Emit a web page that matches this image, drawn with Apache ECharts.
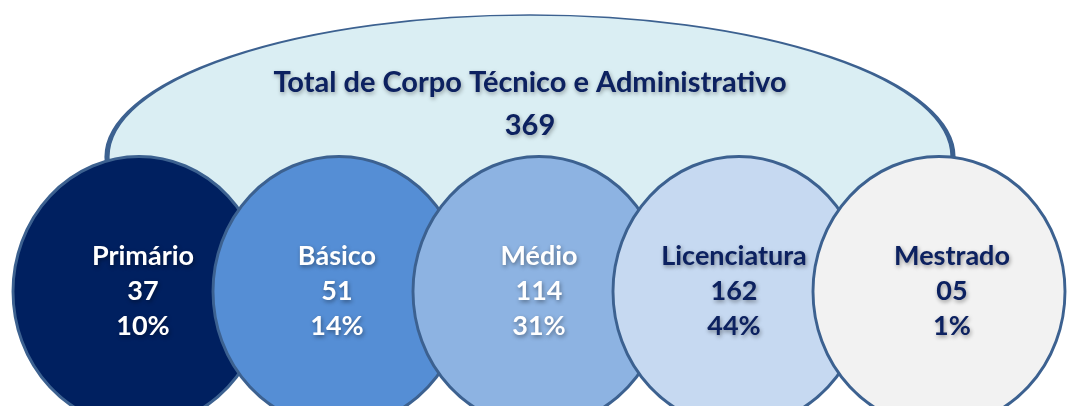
<!DOCTYPE html>
<html>
<head>
<meta charset="utf-8">
<script src="https://cdn.jsdelivr.net/npm/echarts@6/dist/echarts.min.js"></script>
<style>
html,body{margin:0;padding:0;background:#ffffff;}
#chart{width:1070px;height:406px;}
</style>
</head>
<body>
<div id="chart"></div>
<script>
// ---- data ----
const categories = ['Primário', 'Básico', 'Médio', 'Licenciatura', 'Mestrado'];
const counts = [37, 51, 114, 162, 5];
const percents = [10, 14, 31, 44, 1];
const totalTitle = 'Total de Corpo Técnico e Administrativo';
const totalValue = 369;

// ---- styles ----
const fills = ['#002060', '#558ED5', '#8DB3E2', '#C6D9F1', '#F2F2F2'];
const textColors = ['#ffffff', '#ffffff', '#ffffff', '#0C2160', '#0C2160'];
const labelShift = [4, -2, 0, -5, 13];
const outline = '#3C6190';
const navy = '#0C2160';
const ELLIPSE = 'path://M0,50 A50,50 0 1,1 100,50 A50,50 0 1,1 0,50 Z';
const FONT = 'Lato';

const chart = echarts.init(document.getElementById('chart'), null, {renderer: 'canvas'});

const circleData = categories.map((c, i) => ({
  value: [i, 0],
  itemStyle: {color: fills[i]},
  label: {
    color: textColors[i],
    offset: [labelShift[i], 0],
    formatter: c + '\n' + String(counts[i]).padStart(2, '0') + '\n' + percents[i] + '%'
  }
}));

const option = {
  backgroundColor: '#ffffff',
  animation: false,
  grid: [
    {left: 39, width: 1000, top: 177, height: 230},
    {left: 107, width: 846, top: 15, height: 284}
  ],
  xAxis: [
    {gridIndex: 0, type: 'category', data: categories, boundaryGap: true, show: false},
    {gridIndex: 1, type: 'category', data: ['Total'], boundaryGap: true, show: false}
  ],
  yAxis: [
    {gridIndex: 0, type: 'category', data: ['nivel'], boundaryGap: true, show: false},
    {gridIndex: 1, type: 'category', data: ['total'], boundaryGap: true, show: false}
  ],
  series: [
    {
      type: 'scatter',
      xAxisIndex: 1, yAxisIndex: 1,
      z: 1,
      symbol: ELLIPSE,
      symbolSize: [846, 284],
      itemStyle: {color: '#DAEEF3', borderColor: outline, borderWidth: 3, opacity: 1},
      label: {
        show: true,
        position: 'inside',
        offset: [0, -53],
        formatter: totalTitle + '\n' + totalValue,
        fontFamily: FONT, fontWeight: 'bold', fontSize: 29, lineHeight: 43,
        color: navy,
        textShadowColor: 'rgba(0,0,0,0.35)', textShadowBlur: 4,
        textShadowOffsetX: 1, textShadowOffsetY: 2
      },
      emphasis: {disabled: true},
      data: [[0, 0]]
    },
    {
      type: 'scatter',
      xAxisIndex: 0, yAxisIndex: 0,
      z: 2,
      symbol: ELLIPSE,
      symbolSize: [252, 270],
      itemStyle: {borderColor: outline, borderWidth: 3, opacity: 1},
      label: {
        show: true,
        position: 'inside',
        fontFamily: FONT, fontWeight: 'bold', fontSize: 27, lineHeight: 35,
        textShadowColor: 'rgba(0,0,0,0.4)', textShadowBlur: 4,
        textShadowOffsetX: 1, textShadowOffsetY: 2
      },
      emphasis: {disabled: true},
      data: circleData
    }
  ]
};

chart.setOption(option);
</script>
</body>
</html>
